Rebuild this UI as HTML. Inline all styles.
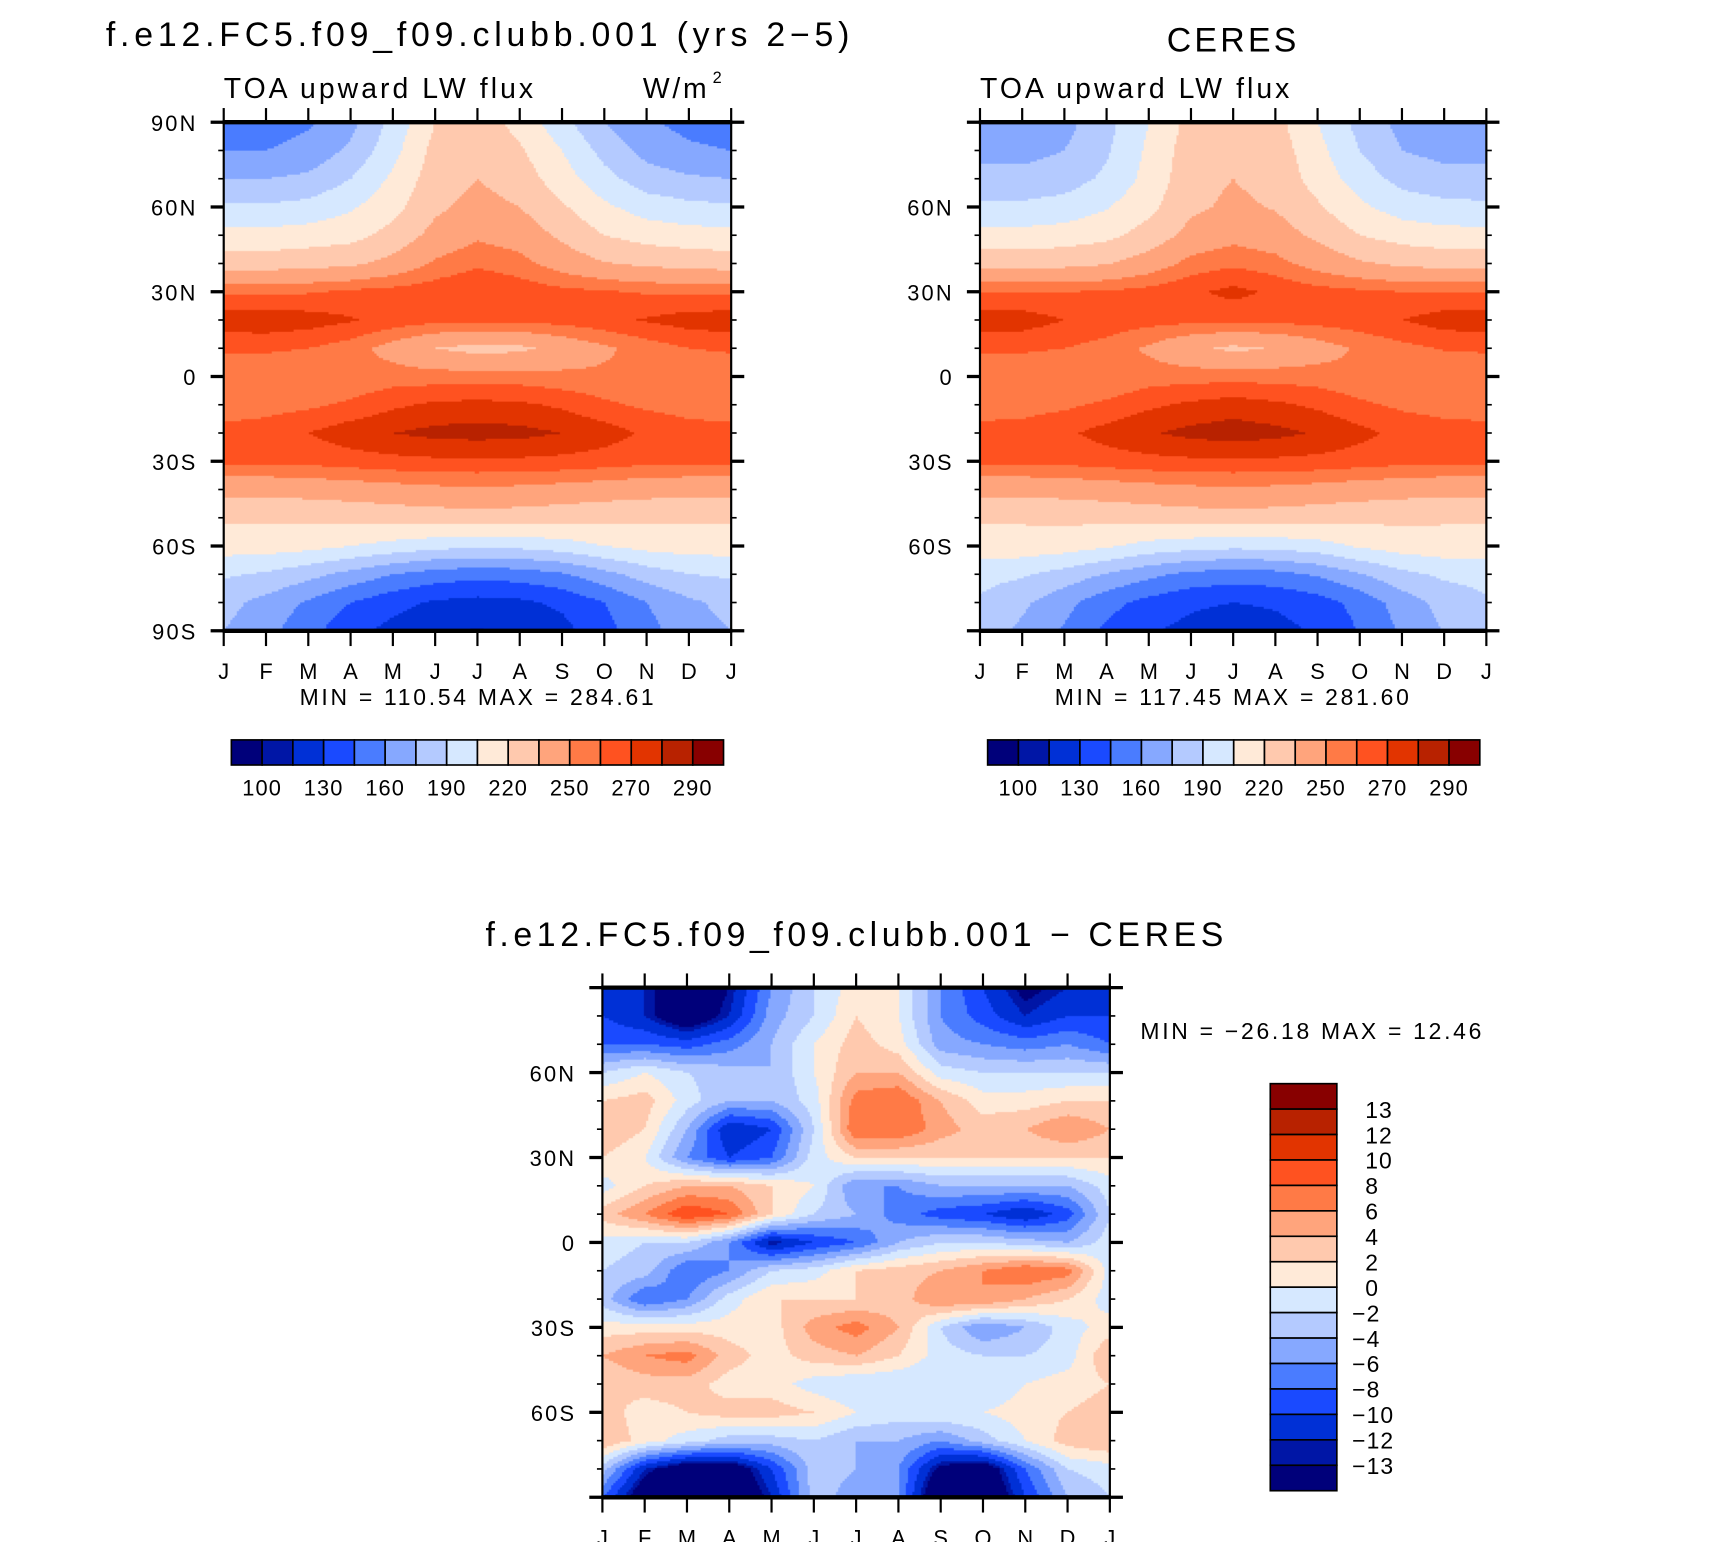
<!DOCTYPE html>
<html><head><meta charset="utf-8">
<style>
html,body{margin:0;padding:0;background:#fff;}
#wrap{position:relative;width:1710px;height:1549px;overflow:hidden;font-family:"Liberation Sans",sans-serif;}
#inner{position:absolute;left:0;top:0;width:1560px;height:1413px;transform:scale(1.0913);transform-origin:0 0;}
canvas{position:absolute;}
svg{position:absolute;left:0;top:0;}
</style></head>
<body>
<div id="wrap">
<div id="inner">
<canvas id="c1" width="465" height="466" style="left:205px;top:112px"></canvas>
<canvas id="c2" width="464" height="466" style="left:898px;top:112px"></canvas>
<canvas id="c3" width="465" height="467" style="left:552px;top:905px"></canvas>
<svg id="ov" width="1560" height="1413"></svg>
</div>
</div>
<script>
const months = ["J","F","M","A","M","J","J","A","S","O","N","D","J"];
const lats = [90,80,70,60,50,40,30,20,10,0,-10,-20,-30,-40,-50,-60,-70,-80,-90];
const fluxLevels = [100,115,130,145,160,175,190,205,220,235,250,260,270,280,290];
const fluxLabels = ["100","130","160","190","220","250","270","290"];
const fluxColors = ["#00007a","#0016a6","#0030d6","#1a4aff","#4a7cff","#86a8ff","#b4caff","#d6e8ff","#ffead8","#ffc9ae","#ffa47c","#ff7a46","#ff5220","#e23400","#b82200","#880000"];
const diffLevels = [-13,-12,-10,-8,-6,-4,-2,0,2,4,6,8,10,12,13];
const diffColors = fluxColors;
const modelField = [
[150,152,158,170,195,220,228,215,195,175,162,155,150],
[160,160,165,178,200,225,232,222,205,185,170,163,160],
[175,175,178,190,208,228,235,228,212,195,182,177,175],
[192,192,195,203,215,232,240,235,222,208,198,194,192],
[210,210,212,215,225,240,248,244,232,220,214,211,210],
[228,228,230,232,240,252,258,254,244,236,232,230,228],
[258,258,259,262,264,266,270,266,263,261,259,258,258],
[276,277,275,271,266,263,263,263,264,267,271,275,276],
[262,262,260,255,245,235,230,232,240,248,255,260,262],
[250,250,250,252,255,255,255,255,253,252,250,250,250],
[255,256,258,262,268,272,273,272,268,262,258,256,255],
[263,265,270,276,280,283,284,283,280,275,268,264,263],
[262,262,263,265,267,268,268,268,267,265,263,262,262],
[240,240,241,243,245,247,248,247,245,243,241,240,240],
[222,222,223,224,226,228,228,228,226,224,223,222,222],
[212,212,210,205,200,195,193,194,198,205,210,212,212],
[192,188,180,170,160,153,150,152,158,170,182,190,192],
[180,170,158,145,135,128,125,127,133,145,160,172,180],
[175,165,150,135,125,118,114,118,125,140,155,168,175]];
const ceresField = [
[165,165,170,185,205,225,230,225,205,185,170,165,165],
[170,170,175,188,208,228,233,228,210,190,175,170,170],
[180,180,183,193,210,230,235,230,214,198,185,181,180],
[193,193,196,204,216,232,238,234,222,208,198,194,193],
[210,210,212,216,226,240,246,242,232,220,214,211,210],
[230,230,231,234,242,254,258,254,245,237,232,230,230],
[260,260,260,261,264,268,273,268,264,262,260,260,260],
[276,275,270,266,264,263,263,263,264,266,270,275,276],
[262,262,260,256,248,238,232,236,244,252,257,261,262],
[250,250,250,251,255,256,256,256,255,252,250,250,250],
[256,256,258,262,268,272,275,272,268,262,258,256,256],
[263,264,268,274,279,283,285,283,279,273,267,264,263],
[262,262,263,265,267,268,268,268,267,265,263,262,262],
[240,240,241,243,245,247,248,247,245,243,241,240,240],
[222,222,223,224,226,228,228,228,226,224,223,222,222],
[214,214,212,207,200,196,194,195,199,207,212,214,214],
[195,192,184,174,164,156,153,155,162,174,186,193,195],
[188,178,165,150,140,133,130,132,138,150,167,180,188],
[182,172,158,142,132,125,120,125,132,146,162,176,182]];
const diffField = [
[-10,-12,-16,-13,-6,-2,1,0,-6,-10,-14,-12,-10],
[-10,-12,-16,-12,-5,-2,2,0,-6,-9,-12,-10,-10],
[-8,-8,-9,-7,-4,0,3,1,-5,-6,-7,-6,-8],
[-2,0,-2,-3,-4,0,4,4,-1,-2,-2,-2,-2],
[2,3,-1,-4,-4,-1,7,8,4,1,1,2,2],
[4,2,-4,-12,-10,-2,8,8,5,3,4,6,4],
[2,0,-6,-10,-8,-1,2,2,2,2,2,2,2],
[-1,2,4,4,2,0,-6,-6,-4,-4,-4,-4,-1],
[3,6,10,8,2,-2,-4,-7,-9,-10,-12,-9,-2],
[-1,-2,-2,-6,-13,-10,-8,-4,-2,-2,-3,-4,-1],
[-2,-3,-8,-6,-2,-1,2,3,4,6,8,7,-1],
[-3,-8,-6,-1,2,2,2,3,6,6,4,2,-1],
[1,1,1,1,1,5,7,4,-2,-6,-4,-1,1],
[4,6,7,3,1,3,4,2,-1,-2,-2,-1,4],
[2,3,3,1,1,-1,-2,-2,-2,-2,0,1,2],
[3,1,2,3,3,2,0,-1,0,0,1,2,3],
[4,1,-1,-3,-3,-2,-4,-4,-6,-3,0,3,4],
[-3,-12,-16,-16,-10,-3,-4,-6,-14,-16,-8,-2,-1],
[-8,-16,-20,-18,-12,-3,-5,-6,-18,-18,-10,-4,-2]];

function colorFor(v, levels, colors){
  let i=0; while(i<levels.length && v>=levels[i]) i++;
  return colors[i];
}
function sample(f, mx, ly){
  const c0=Math.min(11,Math.floor(mx)), r0=Math.min(17,Math.floor(ly));
  const tx=mx-c0, ty=ly-r0;
  const a=f[r0][c0], b=f[r0][c0+1], c=f[r0+1][c0], d=f[r0+1][c0+1];
  return (a*(1-tx)+b*tx)*(1-ty)+(c*(1-tx)+d*tx)*ty;
}
function drawField(id, f, levels, colors){
  const cv=document.getElementById(id), ctx=cv.getContext('2d');
  const W=cv.width, H=cv.height, s=2;
  for(let y=0;y<H;y+=s){ for(let x=0;x<W;x+=s){
    const mx=(x+s/2)/W*12, ly=(y+s/2)/H*18;
    ctx.fillStyle=colorFor(sample(f,mx,ly),levels,colors);
    ctx.fillRect(x,y,s,s);
  }}
}
drawField('c1',modelField,fluxLevels,fluxColors);
drawField('c2',ceresField,fluxLevels,fluxColors);
drawField('c3',diffField,diffLevels,diffColors);

const NS="http://www.w3.org/2000/svg", ov=document.getElementById('ov');
function el(tag, attrs, parent){ const e=document.createElementNS(NS,tag); for(const k in attrs) e.setAttribute(k,attrs[k]); (parent||ov).appendChild(e); return e; }
function txt(x,y,s,size,anchor,name,ls){
  const t=el('text',{x:x,y:y,'font-size':size,'text-anchor':anchor||'start',fill:'#000','font-family':'"Liberation Sans",sans-serif','letter-spacing':(ls||0)});
  t.textContent=s;
  
  
  return t;
}
function axes(L,T,W,H,latLabels,prefix){
  const g=el('g',{stroke:'#000',fill:'none'});
  
  
  el('rect',{x:L,y:T,width:W,height:H,'stroke-width':2},g);
  el('line',{x1:L-1,y1:T,x2:L+W+1,y2:T,'stroke-width':4},g);
  el('line',{x1:L-1,y1:T+H,x2:L+W+1,y2:T+H,'stroke-width':4},g);
  for(let i=0;i<months.length;i++){
    const x=L+i*W/12;
    el('line',{x1:x,y1:T,x2:x,y2:T-13,'stroke-width':2},g);
    el('line',{x1:x,y1:T+H,x2:x,y2:T+H+14,'stroke-width':2},g);
    txt(x,T+H+44,months[i],20,'middle',prefix+'-month-label');
  }
  for(let lat=90;lat>=-90;lat-=10){
    const y=T+(90-lat)/180*H, major=(lat%30===0);
    el('line',{x1:L,y1:y,x2:L-(major?12:5),y2:y,'stroke-width':major?3:1.5},g);
    el('line',{x1:L+W,y1:y,x2:L+W+(major?12:5),y2:y,'stroke-width':major?3:1.5},g);
  }
  latLabels.forEach(([lat,s])=>{ const y=T+(90-lat)/180*H; txt(L-24,y+8,s,20,'end',prefix+'-lat-label',2); });
}
function hbar(L,T,W,H,prefix){
  const bw=W/16;
  for(let i=0;i<16;i++){ const r=el('rect',{x:L+i*bw,y:T,width:bw,height:H,fill:fluxColors[i],stroke:'#000','stroke-width':1.5});
      }
  const idx=[0,2,4,6,8,10,12,14];
  idx.forEach((k,j)=>txt(L+(k+1)*bw,T+H+28,fluxLabels[j],20,'middle',prefix+'-colorbar-label',1));
}
// Model
txt(97,42,"f.e12.FC5.f09_f09.clubb.001 (yrs 2\u22125)",31,'start','model-title',4.4);
txt(205,90,"TOA upward LW flux",26,'start','model-variable-label',2.8);
txt(650,90,"W/m",26,'end','model-units',2.5);
txt(653,76,"2",15,'start','model-units-exponent');
axes(205,112,465,466,[[90,"90N"],[60,"60N"],[30,"30N"],[0,"0"],[-30,"30S"],[-60,"60S"],[-90,"90S"]],'model');
txt(438,646,"MIN = 110.54  MAX = 284.61",21,'middle','model-min-max',2.5);
hbar(212,678,451,23,'model');
// CERES
txt(1130,47,"CERES",31,'middle','ceres-title',3);
txt(898,90,"TOA upward LW flux",26,'start','ceres-variable-label',2.8);
axes(898,112,464,466,[[60,"60N"],[30,"30N"],[0,"0"],[-30,"30S"],[-60,"60S"]],'ceres');
txt(1130,646,"MIN = 117.45  MAX = 281.60",21,'middle','ceres-min-max',2.5);
hbar(905,678,451,23,'ceres');
// Diff
txt(785,867,"f.e12.FC5.f09_f09.clubb.001 \u2212 CERES",31,'middle','difference-title',4.2);
axes(552,905,465,467,[[60,"60N"],[30,"30N"],[0,"0"],[-30,"30S"],[-60,"60S"]],'difference');
txt(1045,952,"MIN = \u221226.18  MAX =   12.46",21,'start','difference-min-max',2.5);
const vb={L:1164,T:993,W:61,H:373}, bh=vb.H/16;
for(let i=0;i<16;i++){ const r=el('rect',{x:vb.L,y:vb.T+i*bh,width:vb.W,height:bh,fill:diffColors[15-i],stroke:'#000','stroke-width':1.5});
    }
for(let i=0;i<diffLevels.length;i++){
  const v=diffLevels[diffLevels.length-1-i];
  txt(vb.L+vb.W+(v<0?14:26),vb.T+(i+1)*bh+8,(v<0?"\u2212":"")+Math.abs(v),21,'start','difference-colorbar-label',1);
}
</script>
</body></html>
